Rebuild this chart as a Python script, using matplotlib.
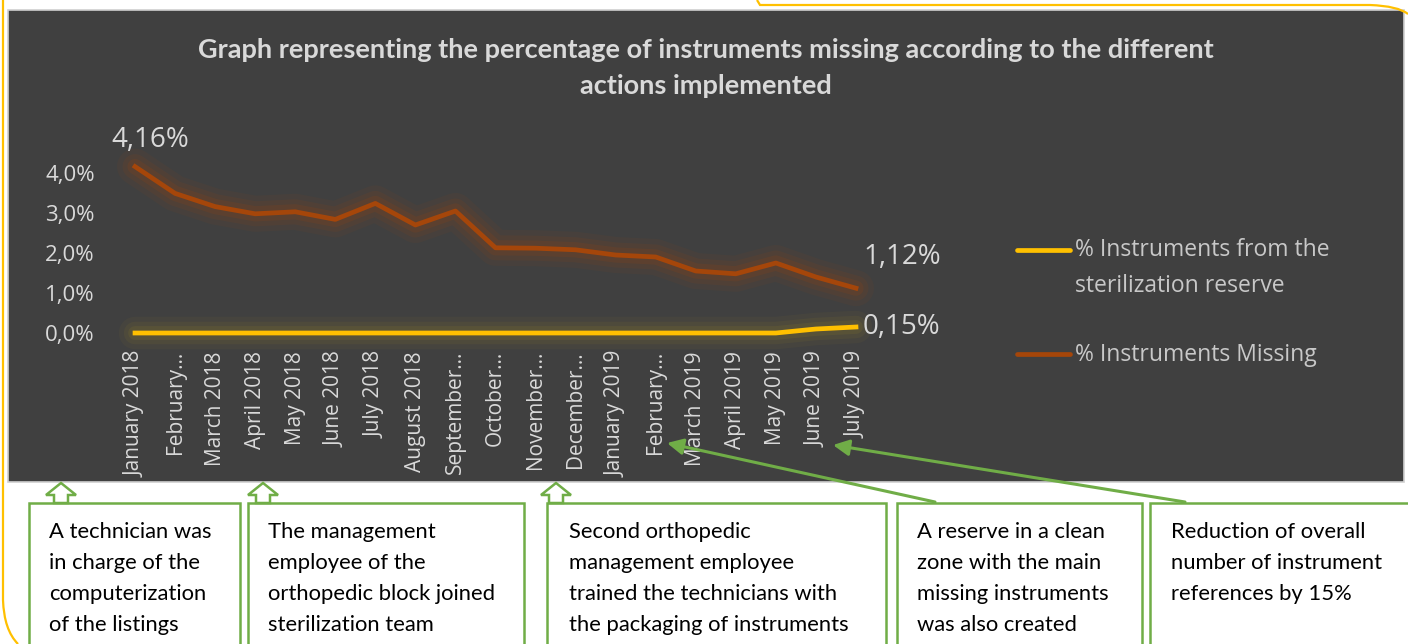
import matplotlib
matplotlib.use("Agg")
import matplotlib.pyplot as plt
from matplotlib.patches import Rectangle, Polygon, FancyArrowPatch, PathPatch
from matplotlib.path import Path
from matplotlib.lines import Line2D

# --- data ---
months = ["January 2018", "February...", "March 2018", "April 2018", "May 2018",
          "June 2018", "July 2018", "August 2018", "September...", "October...",
          "November...", "December...", "January 2019", "February...", "March 2019",
          "April 2019", "May 2019", "June 2019", "July 2019"]
missing = [4.16, 3.49, 3.16, 2.98, 3.03, 2.84, 3.24, 2.70, 3.05, 2.13,
           2.12, 2.08, 1.95, 1.90, 1.55, 1.48, 1.75, 1.40, 1.12]
reserve = [0.00, 0.00, 0.00, 0.00, 0.00, 0.00, 0.00, 0.00, 0.00, 0.00,
           0.00, 0.00, 0.00, 0.00, 0.00, 0.00, 0.00, 0.10, 0.15]
yticks = [0, 1, 2, 3, 4]
ytick_labels = ["0,0%", "1,0%", "2,0%", "3,0%", "4,0%"]
series_names = ["% Instruments from the\nsterilization reserve", "% Instruments Missing"]
title = ("Graph representing the percentage of instruments missing according to the different\n"
         "actions implemented")
notes = [
    ["A technician was", "in charge of the", "computerization", "of the listings"],
    ["The management", "employee of the", "orthopedic block joined", "sterilization team"],
    ["Second orthopedic", "management employee", "trained the technicians with",
     "the packaging of instruments"],
    ["A reserve in a clean", "zone with the main", "missing instruments", "was also created"],
    ["Reduction of overall", "number of instrument", "references by 15%"],
]

W, H = 1408, 644
BG = "#404040"
ORANGE = "#a5460a"
YELLOW = "#ffc000"
GREEN = "#70ad47"
LIGHT = "#d9d9d9"
TXT_FONT = ["Open Sans", "DejaVu Sans"]
BOX_FONT = ["Lato", "DejaVu Sans"]


def fx(x):
    return x / W


def fy(y):
    return 1 - y / H


fig = plt.figure(figsize=(W / 100, H / 100), dpi=100)
fig.patch.set_facecolor("white")

# yellow decorative frame behind the chart
left_frame = Path([(fx(3), fy(0)), (fx(3), fy(600)), (fx(4), fy(630)), (fx(18), fy(644))],
                  [Path.MOVETO, Path.LINETO, Path.CURVE3, Path.CURVE3])
top_frame = Path([(fx(757), fy(0)), (fx(760), fy(5)), (fx(1370), fy(5)),
                  (fx(1398), fy(6)), (fx(1408), fy(14))],
                 [Path.MOVETO, Path.LINETO, Path.LINETO, Path.CURVE3, Path.CURVE3])
for p in (left_frame, top_frame):
    fig.add_artist(PathPatch(p, transform=fig.transFigure, fill=False,
                             edgecolor=YELLOW, lw=1.6))

# dark chart panel
fig.add_artist(Rectangle((fx(8), fy(482)), (1404 - 8) / W, (482 - 10) / H,
                         transform=fig.transFigure, facecolor=BG,
                         edgecolor="#d0d0d0", lw=1.2, zorder=0))

ax = fig.add_axes([fx(115), fy(333), 761 / W, 180 / H])
ax.set_facecolor("none")
x = list(range(len(months)))

# glow under the lines
for lw, a in [(26, 0.07), (18, 0.10), (11, 0.15)]:
    ax.plot(x, missing, color=ORANGE, lw=lw, alpha=a, solid_capstyle="round",
            solid_joinstyle="round", clip_on=False)
    ax.plot(x, reserve, color="#8a7a28", lw=lw * 0.9, alpha=a * 1.2, solid_capstyle="round",
            solid_joinstyle="round", clip_on=False)
ax.plot(x, missing, color=ORANGE, lw=3.4, solid_joinstyle="round", clip_on=False, zorder=3)
ax.plot(x, reserve, color=YELLOW, lw=3.4, solid_joinstyle="round", clip_on=False, zorder=3)

ax.set_xlim(-0.5, len(months) - 0.5)
ax.set_ylim(0, 4.5)
ax.set_yticks(yticks)
ax.set_yticklabels(ytick_labels)
ax.set_xticks(x)
ax.set_xticklabels(months, rotation=90)
ax.tick_params(axis="x", length=0, colors=LIGHT, labelsize=15, pad=13)
ax.tick_params(axis="y", length=0, colors=LIGHT, labelsize=16, pad=14.4)
for lab in ax.get_xticklabels() + ax.get_yticklabels():
    lab.set_family(TXT_FONT)
for s in ax.spines.values():
    s.set_visible(False)

# data labels
lbl = dict(textcoords="offset pixels", color=LIGHT, fontsize=20, family=TXT_FONT,
           ha="center", va="center")
ax.annotate(f"{missing[0]:.2f}%".replace(".", ","), (x[0], missing[0]), xytext=(15, 27), **lbl)
ax.annotate(f"{missing[-1]:.2f}%".replace(".", ","), (x[-1], missing[-1]), xytext=(46, 31), **lbl)
ax.annotate(f"{reserve[-1]:.2f}%".replace(".", ","), (x[-1], reserve[-1]), xytext=(45, 0), **lbl)

# title
fig.text(fx(706), fy(68), title, ha="center", va="center", color=LIGHT,
         fontsize=19.5, fontweight="bold", family=BOX_FONT, linespacing=1.55)

# legend drawn by hand to match the spacing
for col, hy, ty, name in [(YELLOW, 250, 268, series_names[0]), (ORANGE, 354, 355, series_names[1])]:
    fig.add_artist(Line2D([fx(1017), fx(1070)], [fy(hy), fy(hy)], color=col, lw=3.4,
                          solid_capstyle="round"))
    fig.text(fx(1075), fy(ty), name, ha="left", va="center", color="#c8c8c8",
             fontsize=16.5, family=TXT_FONT, linespacing=1.65)

# annotation boxes below the chart
boxes = [(29, 240), (248, 524), (547, 886), (897, 1142), (1150, 1420)]
text_x = [49, 268, 569, 917, 1171]
line_y = [532, 563, 594, 625]
for (x0, x1), tx, lines in zip(boxes, text_x, notes):
    fig.add_artist(Rectangle((fx(x0), fy(660)), (x1 - x0) / W, (660 - 503) / H,
                             transform=fig.transFigure, facecolor="white",
                             edgecolor=GREEN, lw=1.8))
    for ly, line in zip(line_y, lines):
        fig.text(fx(tx), fy(ly), line, ha="left", va="center", color="black",
                 fontsize=15.8, family=BOX_FONT)

# hollow up arrows under the panel
for cx in [61, 263, 556]:
    pts = [(cx, 483), (cx + 15, 495), (cx + 7, 495), (cx + 7, 503),
           (cx - 7, 503), (cx - 7, 495), (cx - 15, 495)]
    fig.add_artist(Polygon([(fx(a), fy(b)) for a, b in pts], closed=True,
                           transform=fig.transFigure, facecolor="white",
                           edgecolor=GREEN, lw=1.8))

# solid green pointers
for start, end in [((935, 502), (667, 443)), ((1185, 502), (833, 445))]:
    fig.add_artist(FancyArrowPatch((fx(start[0]), fy(start[1])), (fx(end[0]), fy(end[1])),
                                   transform=fig.transFigure, arrowstyle="-|>",
                                   mutation_scale=24, color=GREEN, lw=2.2,
                                   shrinkA=0, shrinkB=0))

fig.savefig("out.png", dpi=100, facecolor=fig.get_facecolor())
